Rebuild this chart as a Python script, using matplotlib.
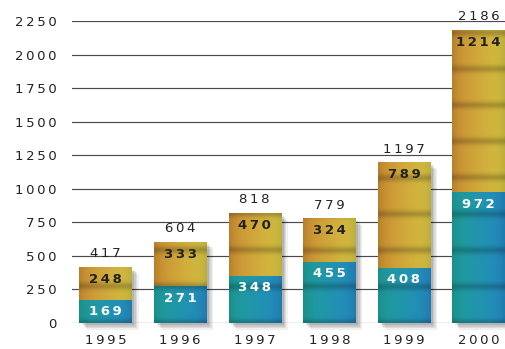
import numpy as np
import matplotlib.pyplot as plt
import matplotlib.transforms as mtransforms
from matplotlib.patches import Rectangle

years = ['1995', '1996', '1997', '1998', '1999', '2000']
lower = [169, 271, 348, 455, 408, 972]
upper = [248, 333, 470, 324, 789, 1214]
totals = [417, 604, 818, 779, 1197, 2186]
yticks = [0, 250, 500, 750, 1000, 1250, 1500, 1750, 2000, 2250]

TEAL = [(0.12, 0.62, 0.60), (0.14, 0.54, 0.76)]
GOLD = [(0.80, 0.56, 0.20), (0.83, 0.76, 0.26)]
BAND = 270.0   # period of the darker stripes, in data units


def spaced(s):
    # wide letter spacing like the print font
    return '\u2009'.join(str(s))


def texture(x0, x1, y0, y1, cols):
    ny = max(int((y1 - y0) / 4), 2)
    yy = np.linspace(y0, y1, ny)[:, None]
    u = np.linspace(0, 1, 40)[None, :]
    c0 = np.array(cols[0])[None, None, :]
    c1 = np.array(cols[1])[None, None, :]
    img = c0 * (1 - u[..., None]) + c1 * u[..., None]
    stripe = (0.5 + 0.5 * np.cos(2 * np.pi * yy / BAND)) ** 10
    shade = 1 - 0.20 * stripe
    edge = 1 - 0.10 * (np.abs(u - 0.5) * 2) ** 4
    img = img * (shade * edge)[..., None]
    return np.clip(img, 0, 1)


fig = plt.figure(figsize=(5.05, 3.49), dpi=100)
ax = fig.add_axes([72 / 505, 26.3 / 349, 433 / 505, 301.7 / 349])

x = np.arange(len(years))
w = 0.70

for t in yticks:
    ax.axhline(t, color='#4a4a4a', lw=0.85, zorder=0)

# soft drop shadow
for k, a in enumerate([0.10, 0.09, 0.08, 0.06]):
    off = mtransforms.ScaledTranslation((2 + k) / 72, -(2 + k) / 72, fig.dpi_scale_trans)
    for xi, tot in zip(x, totals):
        ax.add_patch(Rectangle((xi - w / 2, 0), w, tot, facecolor='black', alpha=a,
                               edgecolor='none', transform=ax.transData + off,
                               clip_on=False, zorder=1))

low_bars = ax.bar(x, lower, w, color=TEAL[0], zorder=2)
up_bars = ax.bar(x, upper, w, bottom=lower, color=GOLD[0], zorder=2)

for bars, cols in [(low_bars, TEAL), (up_bars, GOLD)]:
    for b in bars:
        x0, y0 = b.get_x(), b.get_y()
        x1, y1 = x0 + b.get_width(), y0 + b.get_height()
        im = ax.imshow(texture(x0, x1, y0, y1, cols), extent=(x0, x1, y0, y1),
                       origin='lower', aspect='auto', interpolation='bilinear', zorder=3)
        im.set_clip_path(b)

for xi, lo, up, tot in zip(x, lower, upper, totals):
    ax.annotate(spaced(lo), (xi, lo), xytext=(0, -8.5), textcoords='offset points',
                ha='center', va='center', color='white', fontsize=9.5,
                fontweight='bold', zorder=5)
    ax.annotate(spaced(up), (xi, tot), xytext=(0, -9), textcoords='offset points',
                ha='center', va='center', color='#222222', fontsize=9.5,
                fontweight='bold', zorder=5)
    ax.annotate(spaced(tot), (xi, tot), xytext=(0, 9.5), textcoords='offset points',
                ha='center', va='center', color='#222222', fontsize=9.5,
                annotation_clip=False, zorder=5)

ax.set_xlim(-0.45, 5.355)
ax.set_ylim(0, 2250)
ax.set_xticks(x)
ax.set_xticklabels([spaced(y) for y in years], fontsize=9.5, color='#222222')
ax.set_yticks(yticks)
ax.set_yticklabels([spaced(t) for t in yticks], fontsize=9.5, color='#222222')
ax.tick_params(axis='x', length=0, pad=8)
ax.tick_params(axis='y', length=0, pad=11)
for s in ax.spines.values():
    s.set_visible(False)

fig.savefig('out.png', dpi=100)
